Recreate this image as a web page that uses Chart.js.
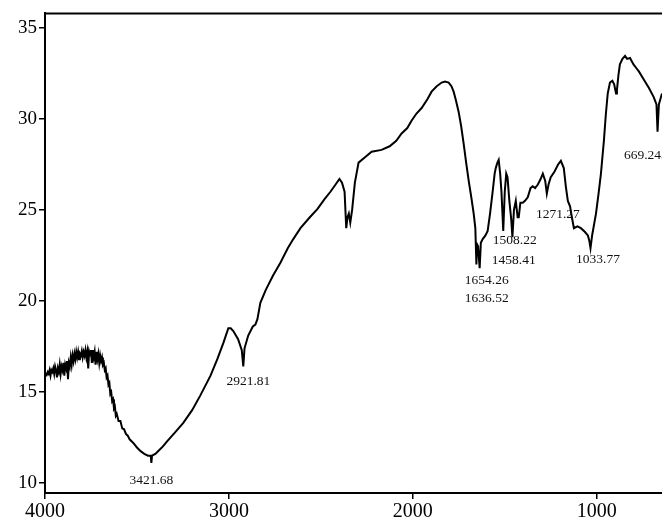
<!DOCTYPE html>
<html>
<head>
<meta charset="utf-8">
<script src="https://cdn.jsdelivr.net/npm/chart.js@4/dist/chart.umd.min.js"></script>
<style>
  body { margin: 0; background: #fff; }
  canvas { display: block; }
</style>
</head>
<body>
<canvas id="irChart" width="662" height="525"></canvas>
<script>
// IR spectrum, wavenumber (cm-1) vs transmittance
const wavenumbers = [
  4000, 3995, 3990, 3985, 3980, 3975, 3970, 3965, 3960, 3955, 3950, 3945, 3940, 3935, 3930, 3925,
  3920, 3915, 3910, 3905, 3900, 3895, 3890, 3885, 3880, 3875, 3870, 3865, 3860, 3855, 3850, 3845,
  3840, 3835, 3830, 3825, 3820, 3815, 3810, 3805, 3800, 3795, 3790, 3785, 3780, 3775, 3770, 3765,
  3760, 3755, 3750, 3745, 3740, 3735, 3730, 3725, 3720, 3715, 3710, 3705, 3700, 3695, 3690, 3685,
  3680, 3675, 3670, 3665, 3660, 3655, 3650, 3645, 3640, 3635, 3630, 3625, 3620, 3615, 3610, 3600,
  3590, 3580, 3570, 3560, 3550, 3540, 3520, 3500, 3480, 3460,
  3440, 3425, 3421.68, 3418, 3400, 3380, 3360, 3335, 3300, 3248, 3200, 3156, 3100, 3063, 3030, 3003,
  2990, 2976, 2950, 2930, 2921.81, 2915, 2895, 2870, 2856, 2845, 2829, 2800, 2760, 2720, 2680, 2650,
  2611, 2560, 2519, 2480, 2448, 2420, 2399, 2385, 2371, 2362, 2355, 2348, 2340, 2330, 2315, 2295,
  2260, 2224, 2170, 2126, 2090, 2061, 2030, 2007, 1980, 1952, 1920, 1898, 1870, 1843, 1825, 1805,
  1790, 1778, 1765, 1751, 1737, 1723, 1710, 1696, 1682, 1669, 1660, 1654.26, 1650, 1645, 1636.52, 1630,
  1620, 1605, 1593, 1580, 1566, 1555, 1549, 1540, 1533, 1525, 1518, 1508.22, 1500, 1492, 1485, 1475,
  1465, 1458.41, 1450, 1440, 1430, 1424, 1415, 1402, 1390, 1375, 1360, 1348, 1335, 1320, 1305, 1293,
  1280, 1271.27, 1262, 1250, 1230, 1210, 1195, 1179, 1168, 1157, 1145, 1135, 1124, 1105, 1086, 1065,
  1048, 1040, 1033.77, 1025, 1004, 990, 977, 961, 950, 940, 928, 915, 905, 895, 890, 882,
  874, 860, 846, 835, 819, 800, 785, 770, 740, 716, 690, 675, 669.24, 662, 645
];
const transmittance = [
  15.9, 16.0, 15.95, 16.1, 16.0, 16.2, 15.9, 16.2, 16.1, 16.3, 16.0, 16.4, 16.2, 15.8, 16.3, 16.1,
  16.5, 16.0, 16.4, 16.2, 16.6, 15.9, 16.5, 16.3, 16.7, 15.7, 16.6, 16.4, 16.9, 16.5, 17.0, 16.7,
  17.1, 16.8, 17.2, 16.9, 17.2, 16.8, 17.1, 17.0, 17.25, 16.9, 17.2, 17.0, 17.3, 16.9, 17.2, 16.3,
  17.2, 17.0, 17.3, 16.6, 17.3, 16.9, 17.2, 16.5, 17.2, 16.8, 17.1, 16.6, 17.0, 16.7, 16.9, 16.5,
  16.6, 16.2, 16.3, 15.8, 15.9, 15.4, 15.5, 14.9, 15.0, 14.5, 14.6, 14.1, 14.2, 13.7, 13.8, 13.4,
  13.4, 13.0, 12.95, 12.7, 12.6, 12.4, 12.2, 11.95, 11.75, 11.6,
  11.5, 11.5, 11.1, 11.5, 11.6, 11.8, 12.0, 12.3, 12.7, 13.3, 14.0, 14.8, 15.9, 16.8, 17.7, 18.5,
  18.5, 18.35, 17.9, 17.3, 16.4, 17.4, 18.1, 18.6, 18.7, 19.0, 19.9, 20.6, 21.4, 22.1, 22.9, 23.4,
  24.0, 24.6, 25.05, 25.6, 26.0, 26.4, 26.7, 26.5, 26.0, 24.0, 24.6, 24.8, 24.3, 25.0, 26.5, 27.6,
  27.9, 28.2, 28.3, 28.5, 28.8, 29.2, 29.5, 29.9, 30.3, 30.6, 31.1, 31.5, 31.8, 32.0, 32.05, 32.0,
  31.8, 31.5, 31.0, 30.4, 29.6, 28.6, 27.6, 26.6, 25.7, 24.8, 24.0, 22.0, 23.1, 23.0, 21.8, 23.2,
  23.4, 23.6, 23.85, 24.8, 26.0, 27.0, 27.3, 27.6, 27.75, 27.0, 26.0, 23.85, 26.0, 27.0, 26.8, 25.5,
  24.5, 23.5, 25.0, 25.5, 24.6, 24.6, 25.4, 25.4, 25.5, 25.7, 26.2, 26.3, 26.2, 26.4, 26.7, 27.0,
  26.6, 25.9, 26.4, 26.8, 27.1, 27.5, 27.7, 27.3, 26.3, 25.5, 25.2, 24.6, 24.0, 24.1, 24.0, 23.8,
  23.6, 23.3, 22.9, 23.6, 24.8, 25.9, 27.0, 28.8, 30.3, 31.4, 32.0, 32.1, 31.9, 31.4, 31.6, 32.4,
  33.0, 33.3, 33.46, 33.3, 33.35, 33.0, 32.8, 32.6, 32.1, 31.7, 31.2, 30.8, 29.3, 30.8, 31.4
];

const xTicks = [4000, 3000, 2000, 1000];
const yTicks = [10, 15, 20, 25, 30, 35];

// peak labels: text, x (cm-1) and y (transmittance) of the label
const peakLabels = ['3421.68', '2921.81', '1508.22', '1458.41', '1654.26', '1636.52', '1271.27', '1033.77', '669.245'];
const peakLabelX = [3421.68, 2894, 1446, 1451, 1598, 1598, 1211, 993, 852];
const peakLabelY = [10.16, 15.6, 23.3, 22.25, 21.15, 20.16, 24.73, 22.3, 27.97];

const points = wavenumbers.map((w, i) => ({x: w, y: transmittance[i]}));

const serif = '"Liberation Serif", "Times New Roman", serif';

const frameTop = {
  id: 'frameTop',
  afterDraw(chart) {
    const {ctx, chartArea} = chart;
    ctx.save();
    ctx.strokeStyle = '#000';
    ctx.lineWidth = 2;
    ctx.beginPath();
    ctx.moveTo(chartArea.left, chartArea.top);
    ctx.lineTo(chartArea.right, chartArea.top);
    ctx.stroke();
    ctx.restore();
  }
};

const peakText = {
  id: 'peakText',
  afterDatasetsDraw(chart) {
    const {ctx, scales} = chart;
    ctx.save();
    ctx.fillStyle = '#111';
    ctx.font = '13.5px ' + serif;
    ctx.textBaseline = 'middle';
    peakLabels.forEach((t, i) => {
      ctx.textAlign = i === peakLabels.length - 1 ? 'left' : 'center';
      ctx.fillText(t, scales.x.getPixelForValue(peakLabelX[i]), scales.y.getPixelForValue(peakLabelY[i]));
    });
    ctx.restore();
  }
};

new Chart(document.getElementById('irChart'), {
  type: 'line',
  data: {
    datasets: [{
      data: points,
      borderColor: '#000',
      borderWidth: 2,
      pointRadius: 0,
      tension: 0,
      fill: false
    }]
  },
  options: {
    responsive: false,
    animation: false,
    layout: {padding: {top: 13, right: 0, left: 0, bottom: 0}},
    plugins: {legend: {display: false}, tooltip: {enabled: false}},
    scales: {
      x: {
        type: 'linear',
        reverse: true,
        min: 645,
        max: 4000,
        afterBuildTicks: s => { s.ticks = xTicks.map(v => ({value: v})); },
        afterFit: s => { s.height = 32; },
        grid: {drawOnChartArea: false, color: '#000', tickLength: 6, lineWidth: 1.5},
        border: {color: '#000', width: 2},
        ticks: {
          color: '#000',
          padding: 1,
          maxRotation: 0,
          callback: v => String(v),
          font: {family: serif, size: 20}
        }
      },
      y: {
        min: 9.45,
        max: 35.8,
        afterBuildTicks: s => { s.ticks = yTicks.map(v => ({value: v})); },
        afterFit: s => { s.width = 45; },
        grid: {drawOnChartArea: false, color: '#000', tickLength: 6, lineWidth: 1.5},
        border: {color: '#000', width: 2},
        ticks: {
          color: '#000',
          padding: 2,
          callback: v => String(v),
          font: {family: serif, size: 19}
        }
      }
    }
  },
  plugins: [frameTop, peakText]
});
</script>
</body>
</html>
